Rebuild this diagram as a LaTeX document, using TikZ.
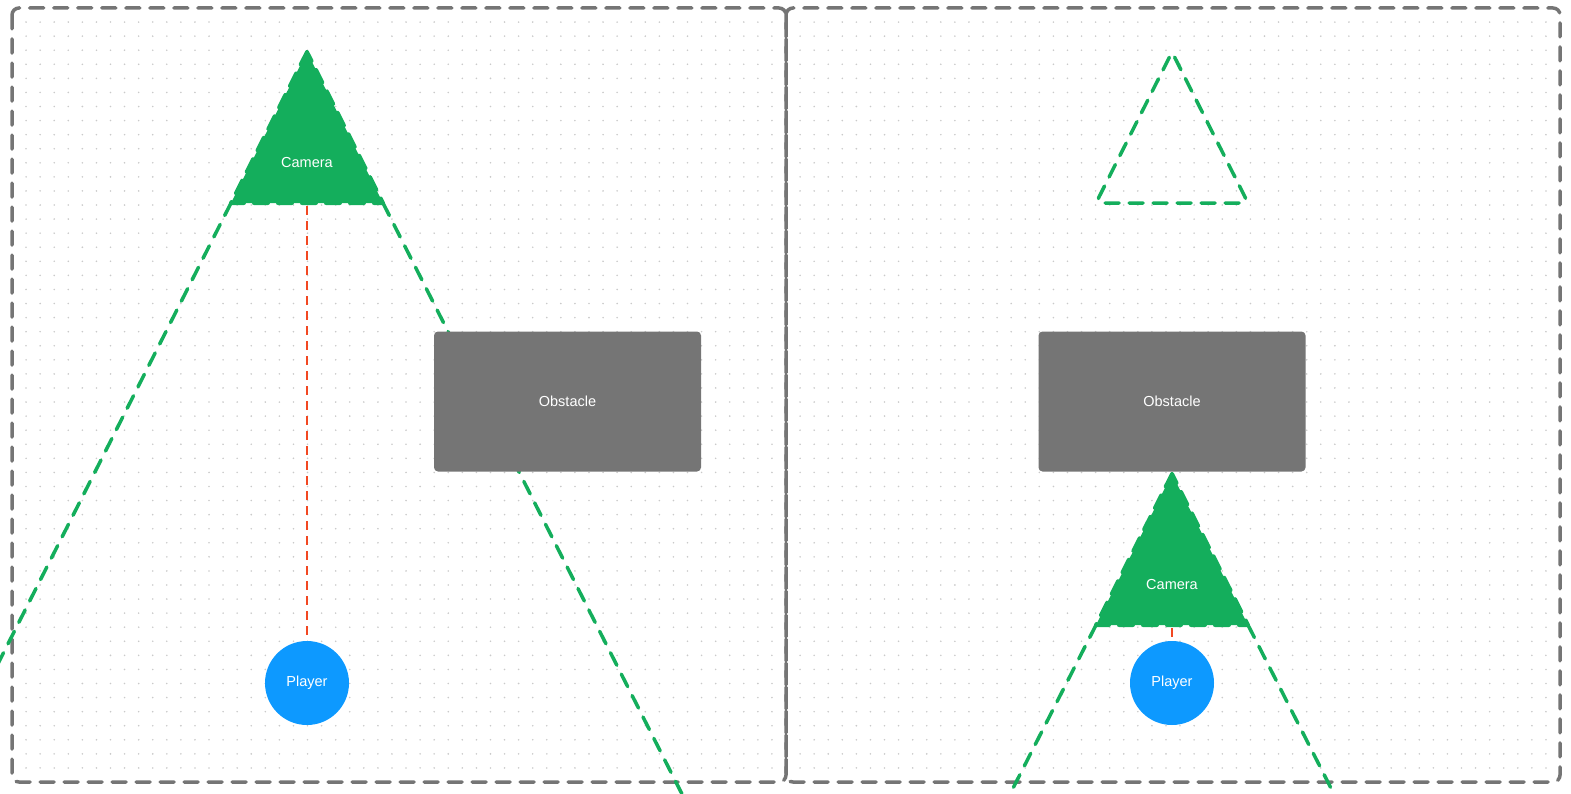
\documentclass[tikz,border=0pt]{standalone}
\usepackage{fontspec}
\setmainfont{Liberation Sans}
\usepackage{tikz}
\usetikzlibrary{arrows,backgrounds}

\definecolor{camgreen}{HTML}{14AE5C}
\definecolor{playerblue}{HTML}{0D99FF}
\definecolor{boxgray}{HTML}{757575}
\definecolor{losred}{HTML}{F24822}
\definecolor{dotgray}{HTML}{CACACA}

\begin{document}
\begin{tikzpicture}[x=1bp,y=-1bp,semithick]
        \tikzstyle{framebox}=[
            draw=boxgray,
            line width=3.5bp,
            dash pattern=on 14bp off 10bp,
            line cap=round,
            rounded corners=7bp
        ]
        \tikzstyle{fovray}=[
            draw=camgreen,
            line width=3.5bp,
            dash pattern=on 14bp off 10bp,
            line cap=round
        ]
        \tikzstyle{camshape}=[
            fill=camgreen,
            draw=camgreen,
            line width=4bp,
            dash pattern=on 14bp off 10bp,
            line cap=round,
            line join=round
        ]
        \tikzstyle{ghostcam}=[
            draw=camgreen,
            line width=3.5bp,
            dash pattern=on 14bp off 10bp,
            line cap=round,
            rounded corners=6bp
        ]
        \tikzstyle{losray}=[
            draw=losred,
            line width=2.4bp,
            dash pattern=on 9bp off 6bp
        ]
        \tikzstyle{obstaclenode}=[
            rectangle,
            rounded corners=4bp,
            fill=boxgray,
            minimum width=267bp,
            minimum height=140bp,
            inner sep=0bp,
            text=white,
            font=\fontsize{14.5bp}{17bp}\selectfont
        ]
        \tikzstyle{playernode}=[
            circle,
            fill=playerblue,
            minimum size=84bp,
            inner sep=0bp,
            text=white,
            font=\fontsize{14.5bp}{17bp}\selectfont
        ]
        \tikzstyle{camlabel}=[
            text=white,
            inner sep=0bp,
            font=\fontsize{14.5bp}{17bp}\selectfont
        ]

        \useasboundingbox (0,0) rectangle (1571,793);
        \clip (0,0) rectangle (1571,793);

        % dot grids
        \foreach \i in {1,...,54}
            \foreach \j in {1,...,54} {
                \fill[dotgray] (12+\i*14.073, 8+\j*14.073) circle (0.9bp);
                \fill[dotgray] (786+\i*14.073, 8+\j*14.073) circle (0.9bp);
            }

        % frames
        \draw[framebox] (12,8) rectangle (786,782);
        \draw[framebox] (786,8) rectangle (1560,782);

        % left: camera far away
        \coordinate (camAtop) at (307,52);
        \coordinate (camAleft) at (231,203);
        \coordinate (camAright) at (383,203);
        \coordinate (camAbase) at (307,206);
        \coordinate (fovAleft) at (-71,800);
        \coordinate (fovAright) at (685,800);

        \draw[fovray] (camAleft) -- (fovAleft);
        \draw[fovray] (camAright) -- (fovAright);
        \filldraw[camshape] (camAtop) -- (camAleft) -- (camAright) -- cycle;
        \node[camlabel] (camA) at (307,163) {Camera};
        \node[obstaclenode] (obA) at (567.5,401.5) {Obstacle};
        \node[playernode] (plA) at (307,683) {Player};
        \draw[losray] (camAbase) -- (plA);

        % right: camera pulled in
        \coordinate (ghostBtop) at (1172,52);
        \coordinate (ghostBleft) at (1096,203);
        \coordinate (ghostBright) at (1248,203);
        \coordinate (camBtop) at (1172,474);
        \coordinate (camBleft) at (1096,625);
        \coordinate (camBright) at (1248,625);
        \coordinate (camBbase) at (1172,628);
        \coordinate (fovBleft) at (1007,800);
        \coordinate (fovBright) at (1337,800);

        \draw[ghostcam] (ghostBtop) -- (ghostBleft) -- (ghostBright) -- cycle;
        \node[obstaclenode] (obB) at (1172,401.5) {Obstacle};
        \draw[fovray] (camBleft) -- (fovBleft);
        \draw[fovray] (camBright) -- (fovBright);
        \filldraw[camshape] (camBtop) -- (camBleft) -- (camBright) -- cycle;
        \node[camlabel] (camB) at (1172,585) {Camera};
        \node[playernode] (plB) at (1172,683) {Player};
        \draw[losray] (camBbase) -- (plB);

    \end{tikzpicture}
\end{document}
